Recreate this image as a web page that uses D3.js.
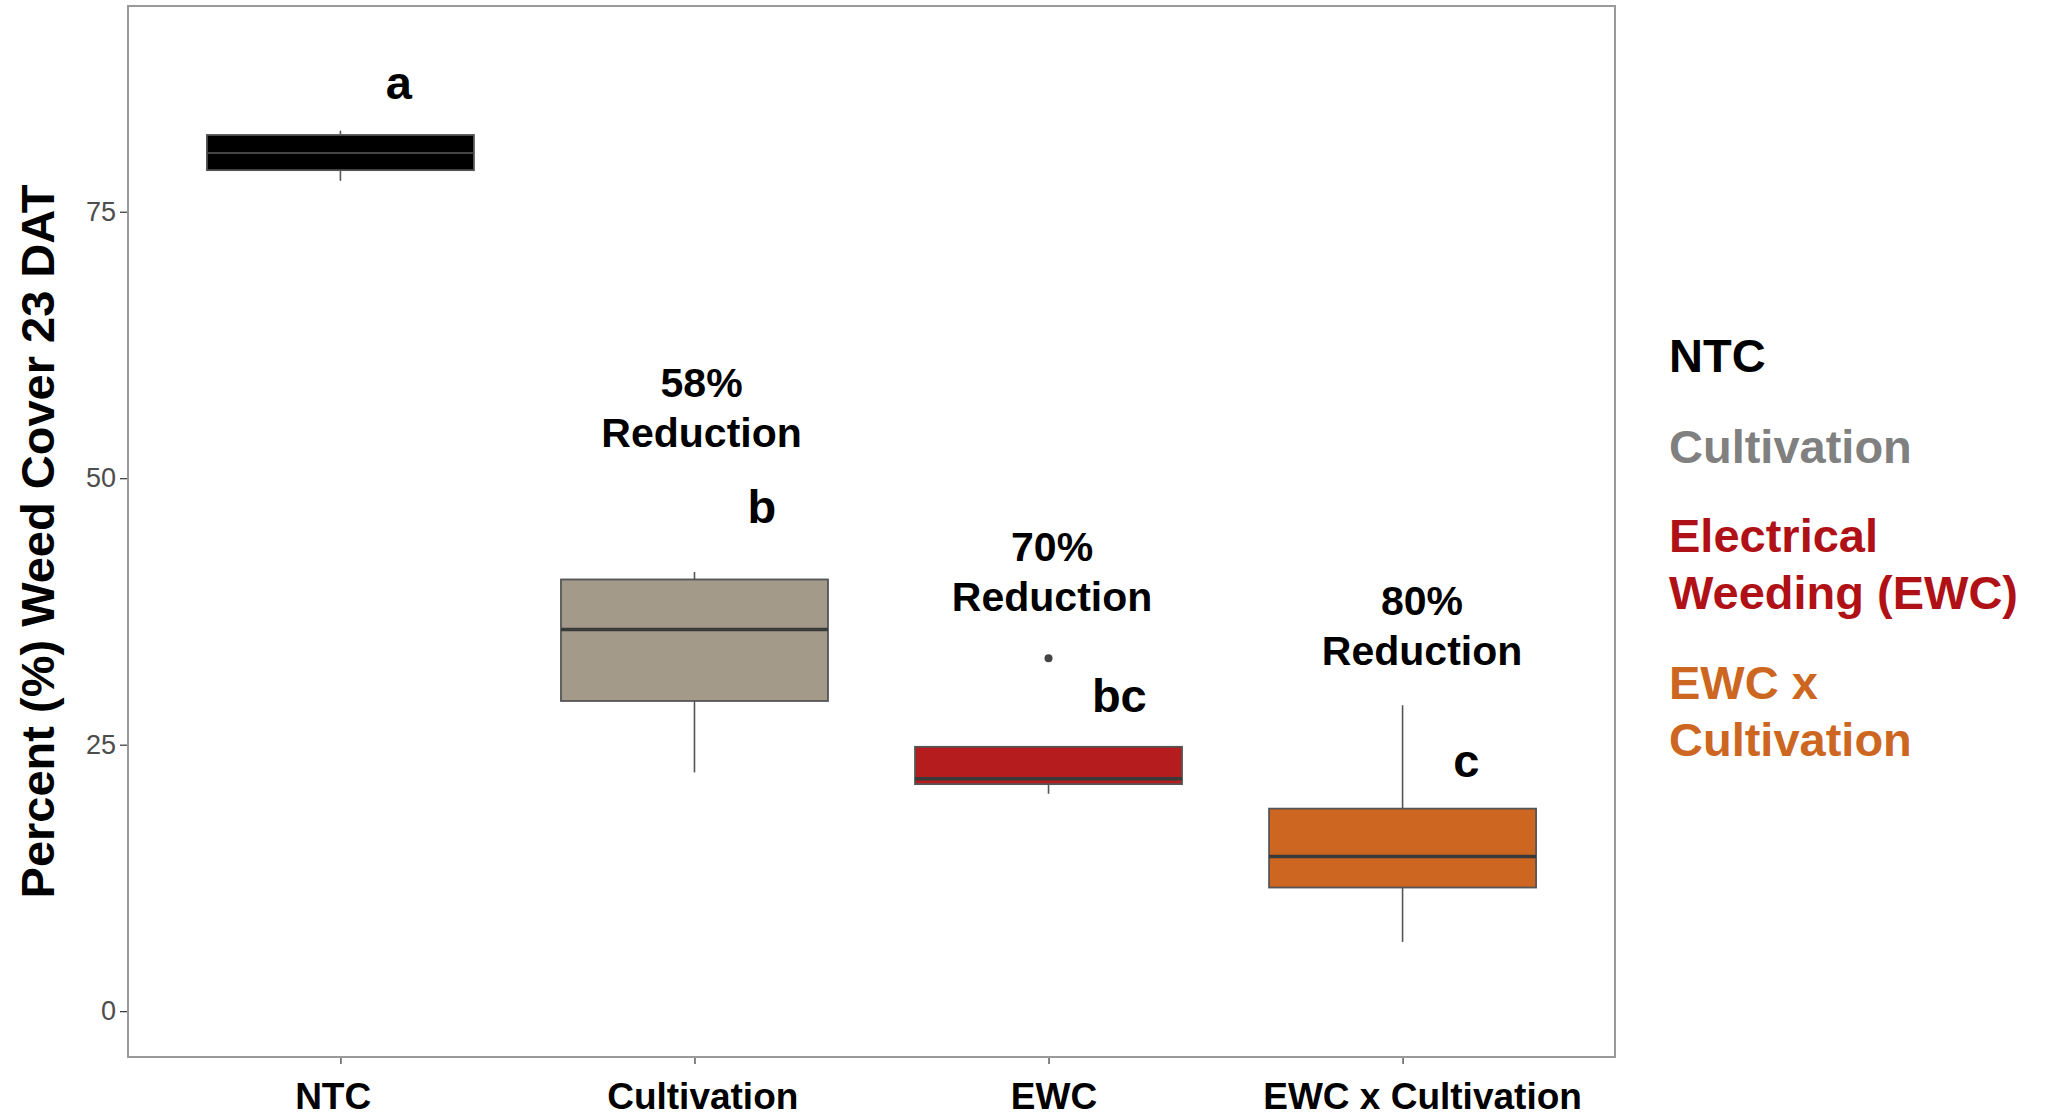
<!DOCTYPE html>
<html lang="en">
    <head>
        <meta charset="utf-8"/>
        <script src="https://d3js.org/d3.v7.min.js"></script>
        <style>
            body { margin: 0; background: #fff; }
            text { font-family: "Liberation Sans", Arial, sans-serif; }
        </style>
    </head>
    <body>
        <div id="chart"></div>
    </body>
    <script>
        // treatment groups, box stats
        var categories = ["NTC", "Cultivation", "EWC", "EWC x Cultivation"];
        var lowWhisker = [77.9, 22.4, 20.4, 6.5];
        var q1 = [78.9, 29.1, 21.3, 11.6];
        var median = [80.5, 35.8, 21.8, 14.5];
        var q3 = [82.2, 40.5, 24.8, 19.0];
        var highWhisker = [82.6, 41.2, 24.8, 28.7];
        var outliers = [[], [], [33.1], []];
        var fills = ["#000000", "#a39a8a", "#b41c1e", "#cc6620"];

        // significance letters and reduction notes
        var letters = ["a", "b", "bc", "c"];
        var letterY = [85.6, 45.8, 28.1, 22.0];
        var letterShift = [0.165, 0.19, 0.2, 0.18];
        var reductions = ["", "58%", "70%", "80%"];
        var reductionY = [0, 57.6, 42.2, 37.2];
        var reductionShift = [0, 0.02, 0.01, 0.055];
        // the category labels sit a little off their ticks in the original
        var labelShift = [-0.022, 0.022, 0.014, 0.055];

        var yTicks = [0, 25, 50, 75];
        var legendLabels = [["NTC"], ["Cultivation"], ["Electrical", "Weeding (EWC)"], ["EWC x", "Cultivation"]];
        var legendColors = ["#000000", "#808080", "#b01116", "#cc6620"];

        var W = 2051, H = 1116;
        var margin = {top: 6, right: 436, bottom: 59, left: 128};
        var width = W - margin.left - margin.right;
        var height = H - margin.top - margin.bottom;

        var svg = d3.select("#chart")
            .append("svg")
                .attr("width", W)
                .attr("height", H);

        var g = svg.append("g")
            .attr("transform", "translate(" + margin.left + "," + margin.top + ")");

        var x = d3.scalePoint()
            .domain(categories)
            .range([0, width])
            .padding(0.6);
        var step = x.step();

        var y = d3.scaleLinear()
            .domain([-4.3, 94.3])
            .range([height, 0]);

        // axes
        var yAxis = g.append("g")
            .call(d3.axisLeft(y).tickValues(yTicks).tickSize(8).tickPadding(4));
        yAxis.select(".domain").remove();
        yAxis.selectAll("line").attr("stroke", "#333").attr("stroke-width", 1.2);
        yAxis.selectAll("text")
            .attr("font-size", 27)
            .attr("fill", "#4d4d4d");

        var xAxis = g.append("g")
            .attr("transform", "translate(0," + height + ")")
            .call(d3.axisBottom(x).tickSize(7).tickPadding(19));
        xAxis.select(".domain").remove();
        xAxis.selectAll("line").attr("stroke", "#333").attr("stroke-width", 1.2);
        xAxis.selectAll("text")
            .attr("x", function (d, i) { return labelShift[i] * step; })
            .attr("font-size", 37)
            .attr("font-weight", "bold")
            .attr("fill", "#000");

        // panel border
        g.append("rect")
            .attr("width", width)
            .attr("height", height)
            .attr("fill", "none")
            .attr("stroke", "#9a9a9a")
            .attr("stroke-width", 2);

        var boxW = 267;
        var boxes = g.selectAll(".box")
            .data(categories)
            .enter()
            .append("g")
                .attr("class", "box")
                .attr("transform", function (d) { return "translate(" + x(d) + ",0)"; });

        boxes.append("line")
            .attr("y1", function (d, i) { return y(highWhisker[i]); })
            .attr("y2", function (d, i) { return y(lowWhisker[i]); })
            .attr("stroke", "#555")
            .attr("stroke-width", 1.6);

        boxes.append("rect")
            .attr("x", -boxW / 2)
            .attr("width", boxW)
            .attr("y", function (d, i) { return y(q3[i]); })
            .attr("height", function (d, i) { return y(q1[i]) - y(q3[i]); })
            .attr("fill", function (d, i) { return fills[i]; })
            .attr("stroke", "#555")
            .attr("stroke-width", 1.8);

        boxes.append("line")
            .attr("x1", -boxW / 2)
            .attr("x2", boxW / 2)
            .attr("y1", function (d, i) { return y(median[i]); })
            .attr("y2", function (d, i) { return y(median[i]); })
            .attr("stroke", function (d, i) { return i === 0 ? "#444" : "#3a3a3a"; })
            .attr("stroke-width", function (d, i) { return i === 0 ? 2 : 3.5; });

        boxes.selectAll(".outlier")
            .data(function (d, i) { return outliers[i]; })
            .enter()
            .append("circle")
                .attr("r", 4)
                .attr("cy", function (v) { return y(v); })
                .attr("fill", "#444");

        // letters
        g.selectAll(".letter")
            .data(categories)
            .enter()
            .append("text")
                .attr("x", function (d, i) { return x(d) + letterShift[i] * step; })
                .attr("y", function (d, i) { return y(letterY[i]); })
                .attr("text-anchor", "middle")
                .attr("font-size", 47)
                .attr("font-weight", "bold")
                .text(function (d, i) { return letters[i]; });

        // reduction notes
        var notes = g.selectAll(".note")
            .data(categories.filter(function (d, i) { return reductions[i] !== ""; }))
            .enter()
            .append("text")
                .attr("text-anchor", "middle")
                .attr("font-size", 41)
                .attr("font-weight", "bold")
                .attr("transform", function (d) {
                    var i = categories.indexOf(d);
                    return "translate(" + (x(d) + reductionShift[i] * step) + "," + y(reductionY[i]) + ")";
                });
        notes.append("tspan")
            .attr("x", 0)
            .text(function (d) { return reductions[categories.indexOf(d)]; });
        notes.append("tspan")
            .attr("x", 0)
            .attr("dy", 50)
            .text("Reduction");

        // y title
        svg.append("text")
            .attr("transform", "translate(54," + (margin.top + height / 2 + 10) + ") rotate(-90)")
            .attr("text-anchor", "middle")
            .attr("font-size", 47)
            .attr("font-weight", "bold")
            .text("Percent (%) Weed Cover 23 DAT");

        // legend as coloured text
        var legendBase = [372, 463, 552, 699];
        var legend = svg.selectAll(".legend")
            .data(legendLabels)
            .enter()
            .append("text")
                .attr("x", 1669)
                .attr("y", function (d, i) { return legendBase[i]; })
                .attr("font-size", 47)
                .attr("font-weight", "bold")
                .attr("fill", function (d, i) { return legendColors[i]; });
        legend.selectAll("tspan")
            .data(function (d) { return d; })
            .enter()
            .append("tspan")
                .attr("x", 1669)
                .attr("dy", function (d, j) { return j === 0 ? 0 : 57; })
                .text(function (d) { return d; });
    </script>
</html>
